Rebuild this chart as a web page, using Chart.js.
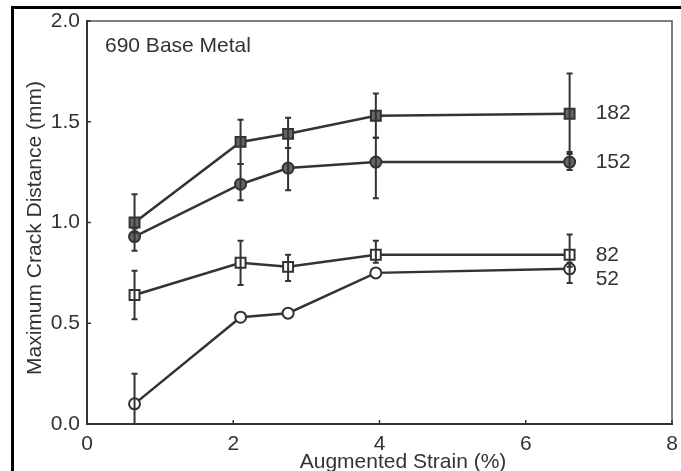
<!DOCTYPE html>
<html>
<head>
<meta charset="utf-8">
<script src="https://cdn.jsdelivr.net/npm/chart.js@4.4.0/dist/chart.umd.min.js"></script>
<style>
  body { margin: 0; background: #fff; }
  #wrap { width: 681px; height: 471px; }
</style>
</head>
<body>
<div id="wrap"><canvas id="myChart" width="681" height="471"></canvas></div>
<script>
// augmented strain (%) for each measurement
var strain = [0.65, 2.1, 2.75, 3.95, 6.6];

// max crack distance (mm), one array per series
var s182 = [1.00, 1.40, 1.44, 1.53, 1.54];
var s152 = [0.93, 1.19, 1.27, 1.30, 1.30];
var s82 = [0.64, 0.80, 0.78, 0.84, 0.84];
var s52 = [0.10, 0.53, 0.55, 0.75, 0.77];

// error bars [low, high], null = none
var e182 = [[0.95, 1.14], [1.29, 1.51], [1.37, 1.52], [1.42, 1.64], [1.34, 1.74]];
var e152 = [[0.86, 0.97], [1.11, 1.29], [1.16, 1.37], [1.12, 1.42], [1.26, 1.35]];
var e82 = [[0.52, 0.76], [0.69, 0.91], [0.71, 0.84], [0.80, 0.91], [0.78, 0.94]];
var e52 = [[0.0, 0.25], null, null, null, [0.70, 0.80]];

var seriesNames = ['182', '152', '82', '52'];
var labelY = [1.54, 1.30, 0.84, 0.72]; // where the series names sit

var yTickLabels = ['0.0', '0.5', '1.0', '1.5', '2.0'];
var xTickLabels = ['0', '2', '4', '6', '8'];

var ink = '#333';
var FONT = '"Liberation Sans", Arial, sans-serif';

function pts(ys) {
    return strain.map(function (x, i) { return { x: x, y: ys[i] }; });
}

function ds(ys, errs, style, filled) {
    return {
        data: pts(ys),
        errs: errs,
        showLine: true,
        borderColor: ink,
        borderWidth: 2.5,
        pointStyle: style,
        pointRadius: style == 'rect' ? 7 : 5.5,
        pointBorderWidth: 2,
        pointBorderColor: ink,
        pointBackgroundColor: filled ? '#666' : '#fff'
    };
}

// outer frame, plot box, inward ticks, error bars and text
const extras = {
    id: 'extras',
    beforeDraw(chart) {
        const ctx = chart.ctx;
        ctx.save();
        ctx.fillStyle = '#fff';
        ctx.fillRect(0, 0, chart.width, chart.height);
        ctx.fillStyle = '#000';
        ctx.fillRect(11, 6, 3, 465);
        ctx.fillRect(11, 6, 670, 3);
        ctx.restore();
    },
    afterDatasetsDraw(chart) {
        const { ctx, chartArea: { top, bottom, left, right }, scales: { x, y } } = chart;
        ctx.save();
        // top and right sides of the box
        ctx.strokeStyle = '#555';
        ctx.lineWidth = 1.5;
        ctx.beginPath();
        ctx.moveTo(left, top);
        ctx.lineTo(right, top);
        ctx.lineTo(right, bottom);
        ctx.stroke();

        // inward ticks
        ctx.strokeStyle = ink;
        ctx.lineWidth = 1.5;
        y.ticks.forEach(function (t) {
            var py = y.getPixelForValue(t.value);
            ctx.beginPath();
            ctx.moveTo(left, py);
            ctx.lineTo(left + 4, py);
            ctx.stroke();
        });
        x.ticks.forEach(function (t) {
            var px = x.getPixelForValue(t.value);
            ctx.beginPath();
            ctx.moveTo(px, bottom);
            ctx.lineTo(px, bottom - 4);
            ctx.stroke();
        });

        // error bars
        ctx.lineWidth = 2;
        chart.data.datasets.forEach(function (d) {
            d.errs.forEach(function (e, i) {
                if (!e) return;
                var px = x.getPixelForValue(d.data[i].x);
                var lo = y.getPixelForValue(e[0]);
                var hi = y.getPixelForValue(e[1]);
                ctx.beginPath();
                ctx.moveTo(px, lo);
                ctx.lineTo(px, hi);
                ctx.moveTo(px - 3, hi);
                ctx.lineTo(px + 3, hi);
                if (e[0] > 0) {
                    ctx.moveTo(px - 3, lo);
                    ctx.lineTo(px + 3, lo);
                }
                ctx.stroke();
            });
        });

        // texts
        ctx.fillStyle = ink;
        ctx.font = '21px ' + FONT;
        ctx.textBaseline = 'middle';
        ctx.textAlign = 'left';
        var lx = x.getPixelForValue(strain[strain.length - 1]) + 26;
        seriesNames.forEach(function (n, i) {
            ctx.fillText(n, lx, y.getPixelForValue(labelY[i]));
        });
        ctx.fillText('690 Base Metal', 105, 46);

        ctx.textAlign = 'center';
        ctx.fillText('Augmented Strain (%)', 403, 462);
        ctx.translate(35, 228);
        ctx.rotate(-Math.PI / 2);
        ctx.fillText('Maximum Crack Distance (mm)', 0, 0);
        ctx.restore();
    }
};

const config = {
    type: 'scatter',
    data: {
        datasets: [
            ds(s182, e182, 'rect', true),
            ds(s152, e152, 'circle', true),
            ds(s82, e82, 'rect', false),
            ds(s52, e52, 'circle', false)
        ]
    },
    plugins: [extras],
    options: {
        responsive: false,
        animation: false,
        layout: { padding: { left: 0, top: 21, right: 7, bottom: 0 } },
        plugins: {
            legend: { display: false },
            tooltip: { enabled: false }
        },
        scales: {
            x: {
                type: 'linear',
                min: 0,
                max: 8,
                afterFit(scale) {
                    scale.height = 47;
                    scale.paddingLeft = 0;
                    scale.paddingRight = 0;
                },
                ticks: {
                    stepSize: 1,
                    color: ink,
                    padding: 8,
                    font: { family: FONT, size: 21 },
                    callback: function (v) {
                        return v % 2 === 0 ? xTickLabels[v / 2] : null;
                    }
                },
                grid: { display: false, tickLength: 0 },
                border: { display: true, color: ink, width: 2 }
            },
            y: {
                min: 0,
                max: 2,
                afterFit(scale) { scale.width = 87; },
                ticks: {
                    stepSize: 0.25,
                    color: ink,
                    padding: 7,
                    font: { family: FONT, size: 21 },
                    callback: function (v) {
                        var k = Math.round(v * 4);
                        return k % 2 === 0 ? yTickLabels[k / 2] : null;
                    }
                },
                grid: { display: false, tickLength: 0 },
                border: { display: true, color: ink, width: 2 }
            }
        }
    }
};

var myChart = new Chart(document.getElementById('myChart'), config);
</script>
</body>
</html>
